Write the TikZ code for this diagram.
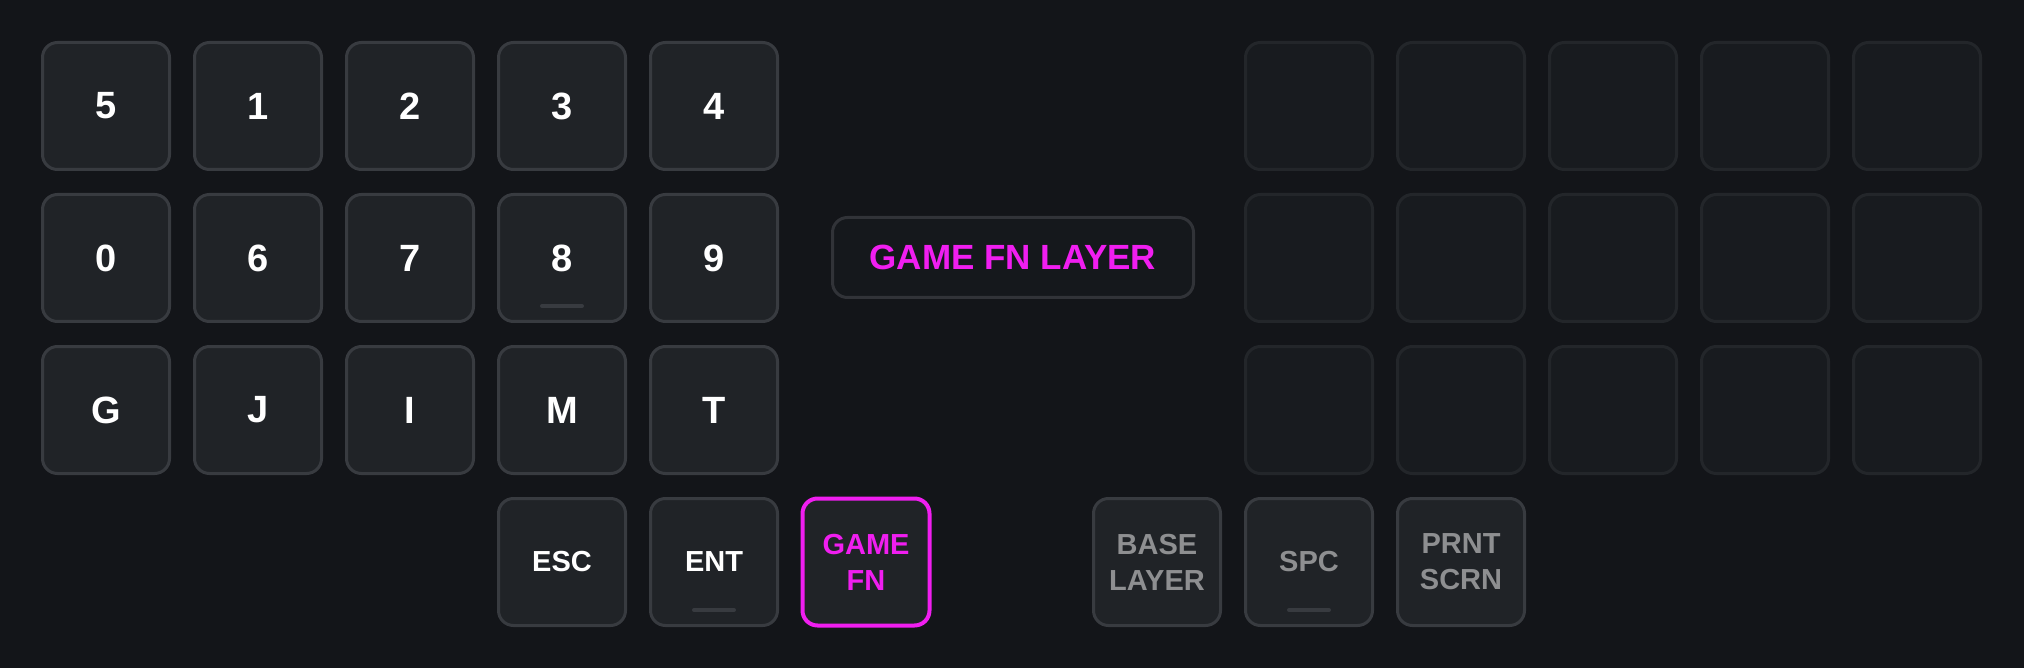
\documentclass[tikz,border=0pt]{standalone}
\usepackage{fontspec}
\setmainfont{Liberation Sans}
\definecolor{bg}{HTML}{131519}
\definecolor{keyfill}{HTML}{202327}
\definecolor{keyline}{HTML}{383B40}
\definecolor{dimfill}{HTML}{181B1F}
\definecolor{dimline}{HTML}{23262A}
\definecolor{layerfill}{HTML}{15181C}
\definecolor{magenta}{HTML}{F01EF0}
\definecolor{greytext}{HTML}{8E8F91}
\tikzset{
  key/.style={draw=keyline,fill=keyfill,line width=1.5pt,rounded corners=7.5pt,
    minimum width=63.5pt,minimum height=63.5pt,inner sep=0pt,align=center,
    text=white,font=\bfseries\fontsize{19}{22}\selectfont},
  small/.style={font=\bfseries\fontsize{14.5}{18}\selectfont},
  dimkey/.style={key,draw=dimline,fill=dimfill},
  homebar/.style={draw=keyline,line width=2pt,line cap=round}
}
\begin{document}
\begin{tikzpicture}[x=0.5pt,y=-0.5pt]
    \fill[bg] (0,0) rectangle (2024,668);
    \foreach \r/\row in {0/{5,1,2,3,4},1/{0,6,7,8,9},2/{G,J,I,M,T}} {
        \foreach \t [count=\c from 0] in \row {
            \node[key] (l\r\c) at ({106+152*\c},{106+152*\r}) {\t};
            \node[dimkey] (r\r\c) at ({1309+152*\c},{106+152*\r}) {};
        }
    }
    \node[key,small] (esc) at (562,562) {ESC};
    \node[key,small] (ent) at (714,562) {ENT};
    \node[key,small,draw=magenta,line width=2pt,text=magenta] (gamefn) at (866,562) {GAME\\FN};
    \node[key,small,text=greytext] (base) at (1157,562) {BASE\\LAYER};
    \node[key,small,text=greytext] (spc) at (1309,562) {SPC};
    \node[key,small,text=greytext] (prnt) at (1461,562) {PRNT\\SCRN};
    \node[draw=keyline!80!bg,fill=layerfill,line width=1.5pt,rounded corners=7.5pt,
        minimum width=180.5pt,minimum height=40pt,text=magenta,
        font=\bfseries\fontsize{17.5}{22}\selectfont] (layer) at (1013,257.5) {GAME FN LAYER};
    \foreach \k in {l13,ent,spc} {
        \draw[homebar] ([xshift=-10pt,yshift=8.5pt]\k.south) -- ([xshift=10pt,yshift=8.5pt]\k.south);
    }
\end{tikzpicture}
\end{document}
